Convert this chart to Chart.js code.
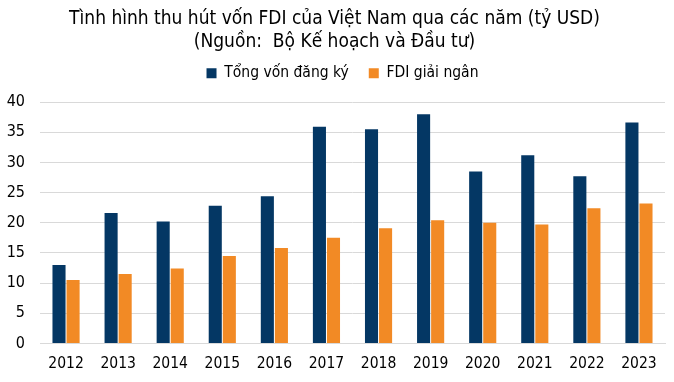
<!DOCTYPE html>
<html>
<head>
<meta charset="utf-8">
<script src="https://cdn.jsdelivr.net/npm/chart.js@4"></script>
<style>
  html, body { margin: 0; padding: 0; background: #fff; }
  #wrap { width: 674px; height: 382px; }
</style>
</head>
<body>
<div id="wrap"><canvas id="grafico" width="674" height="382"></canvas></div>
<script>
const years = ['2012', '2013', '2014', '2015', '2016', '2017', '2018', '2019', '2020', '2021', '2022', '2023'];
const tongVon = [13.0, 21.6, 20.2, 22.8, 24.4, 35.9, 35.5, 38.0, 28.5, 31.2, 27.7, 36.6];
const giaiNgan = [10.5, 11.5, 12.4, 14.5, 15.8, 17.5, 19.1, 20.4, 20.0, 19.7, 22.4, 23.2];
const yTicks = [0, 5, 10, 15, 20, 25, 30, 35, 40];

const fontFam = "'DejaVu Sans Condensed', 'DejaVu Sans', sans-serif";
Chart.defaults.font.family = fontFam;
Chart.defaults.color = '#000';

// spazio extra sotto la legenda, e legenda un po' più a destra
const legendGap = {
    id: 'legendGap',
    beforeInit(chart) {
        const lg = chart.legend;
        const fit = lg.fit;
        lg.fit = function () {
            fit.bind(lg)();
            this.height += 11;
        };
        const draw = lg.draw;
        lg.draw = function () {
            const c = chart.ctx;
            c.save();
            c.translate(8, 0);
            draw.bind(lg)();
            c.restore();
        };
    }
};

const ctx = document.getElementById('grafico').getContext('2d');
new Chart(ctx, {
    type: 'bar',
    data: {
        labels: years,
        datasets: [{
            label: 'Tổng vốn đăng ký',
            data: tongVon,
            backgroundColor: '#043764',
            barPercentage: 0.93,
            categoryPercentage: 0.54
        }, {
            label: 'FDI giải ngân',
            data: giaiNgan,
            backgroundColor: '#f28a25',
            barPercentage: 0.93,
            categoryPercentage: 0.54
        }]
    },
    options: {
        responsive: false,
        animation: false,
        layout: { padding: { left: 4, right: 9, top: 0, bottom: 6 } },
        plugins: {
            title: {
                display: true,
                text: ['Tình hình thu hút vốn FDI của Việt Nam qua các năm (tỷ USD)', '(Nguồn:  Bộ Kế hoạch và Đầu tư)'],
                font: { size: 19, weight: 'normal' },
                color: '#000',
                padding: { top: 8, bottom: -8 },
                lineHeight: 1.2
            },
            legend: {
                labels: {
                    boxWidth: 10,
                    boxHeight: 10,
                    padding: 20,
                    font: { size: 15.5 },
                    color: '#000'
                }
            },
            tooltip: { enabled: false }
        },
        scales: {
            x: {
                grid: { display: false },
                border: { display: true, color: '#d9d9d9' },
                ticks: { font: { size: 15.5 }, color: '#000', padding: 3 }
            },
            y: {
                min: 0,
                max: 40,
                afterBuildTicks: (axis) => { axis.ticks = yTicks.map(v => ({ value: v })); },
                afterFit: (axis) => { axis.width = 36; },
                grid: { color: '#d9d9d9', drawTicks: false },
                border: { display: false },
                ticks: { font: { size: 16 }, color: '#000', padding: 15 }
            }
        }
    },
    plugins: [legendGap]
});
</script>
</body>
</html>
